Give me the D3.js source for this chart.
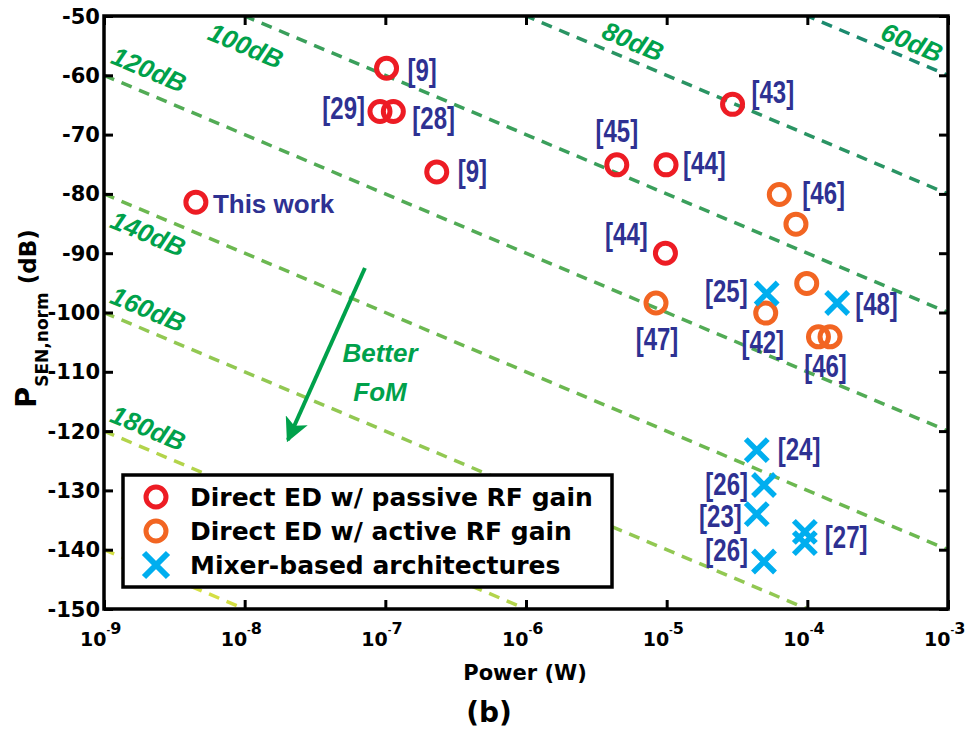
<!DOCTYPE html>
<html>
<head>
<meta charset="utf-8">
<script src="https://cdn.jsdelivr.net/npm/d3@7"></script>
<style>
  html, body { margin: 0; padding: 0; background: #fff; }
  svg { display: block; }
</style>
</head>
<body>
<svg id="chart" width="971" height="730"></svg>
<script>
// ---------------- DATA ----------------
// Direct ED w/ passive RF gain (red circles)
const passiveLabels = ["This work", "[9]", "[29]", "[28]", "[9]", "[45]", "[44]", "[43]", "[44]"];
const passivePower  = [4.5e-9, 1.02e-7, 9.16e-8, 1.14e-7, 2.32e-7, 4.42e-6, 9.9e-6, 2.94e-5, 9.8e-6];
const passivePsen   = [-81.4, -58.8, -66.1, -66.1, -76.3, -75.1, -75.1, -64.9, -90.0];

// Direct ED w/ active RF gain (orange circles)
const activeLabels = ["[46]", "", "[47]", "[42]", "", "[46]", ""];
const activePower  = [6.32e-5, 8.3e-5, 8.4e-6, 5.06e-5, 9.9e-5, 1.2e-4, 1.45e-4];
const activePsen   = [-80.1, -85.1, -98.4, -100.1, -95.1, -104.1, -104.1];

// Mixer-based architectures (cyan crosses)
const mixerLabels = ["[25]", "[48]", "[24]", "[26]", "[23]", "[26]", "[27]", ""];
const mixerPower  = [5.14e-5, 1.63e-4, 4.37e-5, 4.92e-5, 4.37e-5, 4.92e-5, 9.6e-5, 9.6e-5];
const mixerPsen   = [-96.8, -98.4, -123.2, -129.1, -134.0, -142.0, -137.0, -138.9];

// FoM iso-lines: Psen = -FoM - 10*log10(P) - 30
const fomLevels = [60, 80, 100, 120, 140, 160, 180, 200];
const fomLabels = ["60dB", "80dB", "100dB", "120dB", "140dB", "160dB", "180dB", ""];

// Axes
const xTickExps = [-9, -8, -7, -6, -5, -4, -3];
const yTicks = [-50, -60, -70, -80, -90, -100, -110, -120, -130, -140, -150];
const xDomain = [1e-9, 1e-3];
const yDomain = [-150, -50];

const legendItems = ["Direct ED w/ passive RF gain", "Direct ED w/ active RF gain", "Mixer-based architectures"];

// ---------------- LAYOUT / STYLE ----------------
const W = 971, H = 730;
const plot = { left: 104, right: 948, top: 16, bottom: 609 };
const RED = "#ed1c24", ORANGE = "#f26522", CYAN = "#00aeef", NAVY = "#2e3192", GREEN = "#00a14b";
const fomColors = ["#1b8a6e", "#2a9463", "#3a9f5b", "#52ab55", "#6cb850", "#92c852", "#b3d44b", "#d4df44"];
// label placement along each FoM line: [x position (power), vertical px offset]
const fomLabelPos = [[5.55e-4, -18], [5.77e-6, -20], [1.02e-8, 29], [2.09e-9, -25], [2.06e-9, 21], [2.06e-9, -22], [2.06e-9, -22], null];

// label offsets (px) relative to their marker: [dx, dy, anchor]
const passiveLabelOff = [[17, 1, "start"], [21, 3, "start"], [-15, -2, "end"], [19, 8, "start"], [21, 0, "start"], [0, -32, "middle"], [17, 0, "start"], [19, -11, "start"], [-39, -18, "middle"]];
const activeLabelOff  = [[23, 0, "start"], null, [1, 37, "middle"], [-3, 30, "middle"], null, [7, 31, "middle"], null];
const mixerLabelOff   = [[-19, -1, "end"], [18, 2, "start"], [21, 0, "start"], [-16, 0, "end"], [-15, 3, "end"], [-16, -10, "end"], [20, 6, "start"], null];

const svg = d3.select("#chart");
svg.append("rect").attr("width", W).attr("height", H).attr("fill", "#fff");

const x = d3.scaleLog().domain(xDomain).range([plot.left, plot.right]);
const y = d3.scaleLinear().domain(yDomain).range([plot.bottom, plot.top]);

const BLACKFONT = "'DejaVu Sans', sans-serif";
const ARIAL = "'Liberation Sans', Arial, sans-serif";

// clip
const defs = svg.append("defs");
defs.append("clipPath").attr("id", "plotclip")
  .append("rect").attr("x", plot.left).attr("y", plot.top)
  .attr("width", plot.right - plot.left).attr("height", plot.bottom - plot.top);

// ---------- FoM lines ----------
const fomPsen = (F, P) => -F - 10 * Math.log10(P) - 30;
const gLines = svg.append("g").attr("clip-path", "url(#plotclip)");
fomLevels.forEach((F, i) => {
  gLines.append("line")
    .attr("x1", x(xDomain[0])).attr("y1", y(fomPsen(F, xDomain[0])))
    .attr("x2", x(xDomain[1])).attr("y2", y(fomPsen(F, xDomain[1])))
    .attr("stroke", fomColors[i]).attr("stroke-width", 3.5)
    .attr("stroke-dasharray", "11,8");
});
const angle = Math.atan2(y(fomPsen(100, 1e-3)) - y(fomPsen(100, 1e-9)), x(1e-3) - x(1e-9)) * 180 / Math.PI;
fomLevels.forEach((F, i) => {
  if (!fomLabels[i]) return;
  const [p, dy] = fomLabelPos[i];
  const cx = x(p), cy = y(fomPsen(F, p)) + dy;
  svg.append("text")
    .attr("transform", `translate(${cx},${cy}) rotate(${angle})`)
    .attr("text-anchor", "middle").attr("dy", "0.36em")
    .attr("font-family", ARIAL).attr("font-style", "italic").attr("font-weight", "bold")
    .attr("font-size", 26).attr("fill", GREEN)
    .text(fomLabels[i]);
});

// ---------- Better FoM arrow ----------
const arrowFrom = [7.16e-8, -92.5], arrowTo = [2.03e-8, -121.5];
defs.append("marker").attr("id", "arrowhead")
  .attr("viewBox", "0 0 10 10").attr("refX", 9).attr("refY", 5)
  .attr("markerWidth", 6).attr("markerHeight", 6).attr("orient", "auto")
  .attr("markerUnits", "strokeWidth")
  .append("path").attr("d", "M0,0 L10,5 L0,10 L2.5,5 Z").attr("fill", GREEN);
svg.append("line")
  .attr("x1", x(arrowFrom[0])).attr("y1", y(arrowFrom[1]))
  .attr("x2", x(arrowTo[0])).attr("y2", y(arrowTo[1]))
  .attr("stroke", GREEN).attr("stroke-width", 4).attr("marker-end", "url(#arrowhead)");
const betterPos = [[9.16e-8, -106.8, "Better"], [9.16e-8, -113.3, "FoM"]];
betterPos.forEach(([p, s, t]) => {
  svg.append("text").attr("x", x(p)).attr("y", y(s)).attr("dy", "0.36em")
    .attr("text-anchor", "middle").attr("font-family", ARIAL)
    .attr("font-style", "italic").attr("font-weight", "bold")
    .attr("font-size", 26).attr("fill", GREEN).text(t);
});

// ---------- Axes ----------
const xTickVals = xTickExps.map(e => Math.pow(10, e));
function styleAxis(g) {
  g.select(".domain").remove();
  g.selectAll(".tick line").attr("stroke", "#000").attr("stroke-width", 3);
}
svg.append("g").attr("transform", `translate(0,${plot.bottom})`)
  .call(d3.axisBottom(x).tickValues(xTickVals).tickSize(-9).tickFormat(""))
  .call(styleAxis);
svg.append("g").attr("transform", `translate(0,${plot.top})`)
  .call(d3.axisTop(x).tickValues(xTickVals).tickSize(-9).tickFormat(""))
  .call(styleAxis);
svg.append("g").attr("transform", `translate(${plot.left},0)`)
  .call(d3.axisLeft(y).tickValues(yTicks).tickSize(-9).tickFormat(""))
  .call(styleAxis);
svg.append("g").attr("transform", `translate(${plot.right},0)`)
  .call(d3.axisRight(y).tickValues(yTicks).tickSize(-9).tickFormat(""))
  .call(styleAxis);

// frame
svg.append("rect").attr("x", plot.left).attr("y", plot.top)
  .attr("width", plot.right - plot.left).attr("height", plot.bottom - plot.top)
  .attr("fill", "none").attr("stroke", "#000").attr("stroke-width", 3.5);

// y tick labels
svg.append("g").selectAll("text").data(yTicks).join("text")
  .attr("x", plot.left - 4).attr("y", d => y(d)).attr("dy", "0.36em")
  .attr("text-anchor", "end").attr("font-family", BLACKFONT).attr("font-weight", "bold")
  .attr("font-size", 21).attr("fill", "#000")
  .text(d => String(d));

// x tick labels (10^e)
const xl = svg.append("g").selectAll("text").data(xTickExps).join("text")
  .attr("x", d => x(Math.pow(10, d)) - 24).attr("y", 646)
  .attr("text-anchor", "start").attr("font-family", BLACKFONT).attr("font-weight", "bold")
  .attr("fill", "#000");
xl.append("tspan").attr("font-size", 19).text("10");
xl.append("tspan").attr("font-size", 9).attr("dy", -13).text("-");
xl.append("tspan").attr("font-size", 16).attr("dy", 1).text(d => String(-d));

// axis titles
svg.append("text").attr("x", 525).attr("y", 680).attr("text-anchor", "middle")
  .attr("font-family", BLACKFONT).attr("font-weight", "bold").attr("font-size", 21)
  .text("Power (W)");
svg.append("text").attr("x", 489).attr("y", 722).attr("text-anchor", "middle")
  .attr("font-family", BLACKFONT).attr("font-weight", "bold").attr("font-size", 28)
  .text("(b)");
const yt = svg.append("text").attr("transform", "translate(36,408) rotate(-90)")
  .attr("text-anchor", "start").attr("font-family", BLACKFONT).attr("font-weight", "bold");
yt.append("tspan").attr("font-size", 29).text("P");
yt.append("tspan").attr("font-size", 17).attr("dy", 12).text("SEN,norm");
yt.append("tspan").attr("font-size", 23).attr("dy", -12).attr("dx", 8).text("(dB)");

// ---------- Markers ----------
const circleR = 10, circleSW = 5, crossH = 11, crossSW = 5.5;
function drawCircles(powers, psens, color) {
  svg.append("g").selectAll("circle").data(powers).join("circle")
    .attr("cx", d => x(d)).attr("cy", (d, i) => y(psens[i]))
    .attr("r", circleR).attr("fill", "none").attr("stroke", color).attr("stroke-width", circleSW);
}
function crossPath(cx, cy, h) {
  return `M${cx - h},${cy - h}L${cx + h},${cy + h}M${cx - h},${cy + h}L${cx + h},${cy - h}`;
}
drawCircles(activePower, activePsen, ORANGE);
drawCircles(passivePower, passivePsen, RED);
svg.append("g").selectAll("path").data(mixerPower).join("path")
  .attr("d", (d, i) => crossPath(x(d), y(mixerPsen[i]), crossH))
  .attr("fill", "none").attr("stroke", CYAN).attr("stroke-width", crossSW);

// ---------- Reference labels ----------
function drawLabels(labels, powers, psens, offs) {
  labels.forEach((t, i) => {
    if (!t || !offs[i]) return;
    const [dx, dy, anchor] = offs[i];
    const isWork = t === "This work";
    const px = x(powers[i]) + dx, py = y(psens[i]) + dy;
    svg.append("text")
      .attr("transform", isWork ? `translate(${px},${py})` : `translate(${px},${py}) scale(0.75,1)`)
      .attr("dy", isWork ? "0.36em" : "0.3em")
      .attr("text-anchor", anchor)
      .attr("font-family", ARIAL)
      .attr("font-weight", "bold")
      .attr("font-size", isWork ? 26 : 32)
      .attr("fill", NAVY).text(t);
  });
}
drawLabels(passiveLabels, passivePower, passivePsen, passiveLabelOff);
drawLabels(activeLabels, activePower, activePsen, activeLabelOff);
drawLabels(mixerLabels, mixerPower, mixerPsen, mixerLabelOff);

// ---------- Legend ----------
const leg = { x: 123, y: 475, w: 489, h: 112 };
svg.append("rect").attr("x", leg.x).attr("y", leg.y).attr("width", leg.w).attr("height", leg.h)
  .attr("fill", "#fff").attr("stroke", "#000").attr("stroke-width", 3.5);
const legRowY = [497, 531, 565];
const legColors = [RED, ORANGE, CYAN];
legendItems.forEach((t, i) => {
  const cy = legRowY[i];
  if (i < 2) {
    svg.append("circle").attr("cx", 156).attr("cy", cy).attr("r", circleR)
      .attr("fill", "none").attr("stroke", legColors[i]).attr("stroke-width", circleSW);
  } else {
    svg.append("path").attr("d", crossPath(156, cy, 12))
      .attr("stroke", legColors[i]).attr("stroke-width", 6).attr("fill", "none");
  }
  svg.append("text").attr("x", 190).attr("y", cy + 9)
    .attr("font-family", BLACKFONT).attr("font-weight", "bold").attr("font-size", 25)
    .attr("fill", "#000").text(t);
});
</script>
</body>
</html>
